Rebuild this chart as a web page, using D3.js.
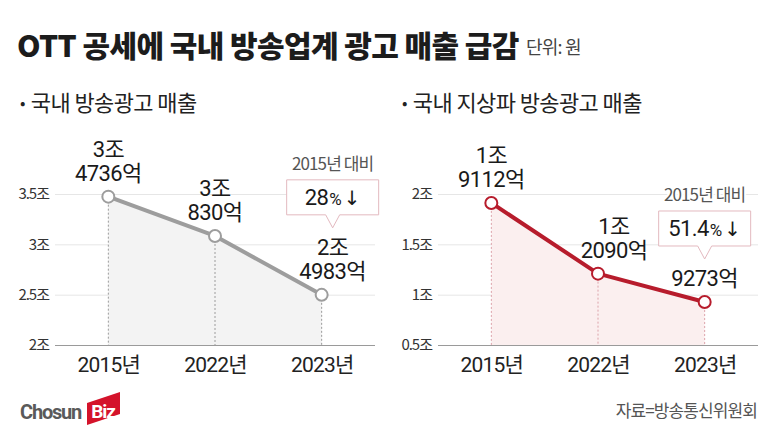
<!DOCTYPE html>
<html>
<head>
<meta charset="utf-8">
<script src="https://cdn.jsdelivr.net/npm/d3@7"></script>
<style>
  html, body { margin: 0; padding: 0; background: #fff; }
  svg { display: block; }
  text { font-family: Roboto, "Noto Sans CJK KR", sans-serif; }
  .kr { font-family: "Noto Sans CJK KR", sans-serif; }
</style>
</head>
<body>
<div id="chart"></div>
<script>
// chart values
var years = ["2015년", "2022년", "2023년"]
var totalSales = [3.4736, 3.0830, 2.4983]
var terrestrialSales = [1.9112, 1.2090, 0.9273]
var totalLabels = [["3조", "4736억"], ["3조", "830억"], ["2조", "4983억"]]
var terrestrialLabels = [["1조", "9112억"], ["1조", "2090억"], ["9273억"]]
var totalTicks = [2, 2.5, 3, 3.5]
var terrestrialTicks = [0.5, 1, 1.5, 2]
var changeLabels = ["28", "51.4"]
var subtitles = ["국내 방송광고 매출", "국내 지상파 방송광고 매출"]

var width = 780, height = 435

var svg = d3.select("#chart").append("svg")
  .attr("width", width)
  .attr("height", height)

// header
svg.append("text")
  .attr("class", "kr")
  .attr("x", 17)
  .attr("y", 57)
  .attr("font-size", 30)
  .attr("font-weight", 900)
  .attr("letter-spacing", -0.6)
  .attr("fill", "#1c1c1c")
  .text("OTT 공세에 국내 방송업계 광고 매출 급감")

svg.append("text")
  .attr("class", "kr")
  .attr("x", 526)
  .attr("y", 54)
  .attr("font-size", 18)
  .attr("letter-spacing", -0.8)
  .attr("fill", "#444")
  .text("단위: 원")

var panels = [
  { values: totalSales, labels: totalLabels, ticks: totalTicks, change: changeLabels[0], subtitle: subtitles[0],
    x0: 55, x1: 375, subX: 20, line: "#9d9d9d", area: "#f3f3f3", dash: "#9a9a9a", box: "#e3b9bf", lastDx: 11, midDx: 0 },
  { values: terrestrialSales, labels: terrestrialLabels, ticks: terrestrialTicks, change: changeLabels[1], subtitle: subtitles[1],
    x0: 438, x1: 758, subX: 402, line: "#b71c2c", area: "#fbefef", dash: "#dca3aa", box: "#e3b9bf", lastDx: 0, midDx: 16 }
]

var baseY = 345, topY = 194

panels.forEach(function(p) {

  var x = d3.scalePoint().domain(years).range([p.x0, p.x1]).padding(0.5)

  var y = d3.scaleLinear().domain(d3.extent(p.ticks)).range([baseY, topY])

  var g = svg.append("g")

  // subtitle
  var sub = g.append("text")
    .attr("class", "kr")
    .attr("x", p.subX)
    .attr("y", 111)
    .attr("font-size", 22)
    .attr("letter-spacing", -0.6)
    .attr("fill", "#222")
  sub.append("tspan").attr("font-size", 16).attr("dy", -2).text("•")
  sub.append("tspan").attr("dy", 2).attr("dx", 6).text(p.subtitle)

  // grid
  var yAxis = d3.axisLeft(y)
    .tickValues(p.ticks)
    .tickSize(-(p.x1 - p.x0))
    .tickPadding(6)
    .tickFormat(function(d) { return d + "조" })

  var ax = g.append("g")
    .attr("transform", "translate(" + p.x0 + ",0)")
    .call(yAxis)
  ax.select(".domain").remove()
  ax.selectAll(".tick line").attr("stroke", "#e6e6e6").attr("stroke-width", 1)
  ax.selectAll(".tick").filter(function(d) { return d === p.ticks[0] }).select("line").attr("stroke", "#9a9a9a")
  ax.selectAll(".tick text")
    .attr("class", "kr")
    .attr("font-size", 15)
    .attr("letter-spacing", -1)
    .attr("fill", "#333")

  // area
  var area = d3.area()
    .x(function(d, i) { return x(years[i]) })
    .y0(baseY)
    .y1(function(d) { return y(d) })

  g.append("path")
    .datum(p.values)
    .attr("d", area)
    .attr("fill", p.area)

  // drop lines
  g.selectAll(".drop")
    .data(p.values)
    .enter().append("line")
    .attr("x1", function(d, i) { return x(years[i]) })
    .attr("x2", function(d, i) { return x(years[i]) })
    .attr("y1", function(d) { return y(d) })
    .attr("y2", baseY)
    .attr("stroke", p.dash)
    .attr("stroke-width", 1)
    .attr("stroke-dasharray", "2,2")

  // x axis labels
  var xAxis = d3.axisBottom(x).tickSize(0).tickPadding(12)
  var xa = g.append("g")
    .attr("transform", "translate(0," + baseY + ")")
    .call(xAxis)
  xa.select(".domain").remove()
  xa.selectAll(".tick text")
    .attr("font-size", 21)
    .attr("letter-spacing", -0.8)
    .attr("fill", "#222")

  // line
  var line = d3.line()
    .x(function(d, i) { return x(years[i]) })
    .y(function(d) { return y(d) })

  g.append("path")
    .datum(p.values)
    .attr("d", line)
    .attr("fill", "none")
    .attr("stroke", p.line)
    .attr("stroke-width", 4)
    .attr("stroke-linejoin", "round")

  g.selectAll(".dot")
    .data(p.values)
    .enter().append("circle")
    .attr("cx", function(d, i) { return x(years[i]) })
    .attr("cy", function(d) { return y(d) })
    .attr("r", 6)
    .attr("fill", "#fff")
    .attr("stroke", p.line)
    .attr("stroke-width", 2)

  // value labels
  var offsets = [0, p.midDx, p.lastDx]
  p.values.forEach(function(v, i) {
    var lines = p.labels[i]
    var cx = x(years[i]) + offsets[i]
    lines.forEach(function(t, j) {
      var fromBottom = lines.length - 1 - j
      g.append("text")
        .attr("x", cx)
        .attr("y", y(v) - 16 - fromBottom * 24)
        .attr("text-anchor", "middle")
        .attr("font-size", 22)
        .attr("letter-spacing", -0.6)
        .attr("fill", "#1a1a1a")
        .text(t)
    })
  })

  // change callout above the last point
  var last = p.values.length - 1
  var nLines = p.labels[last].length
  var tipX = x(years[last]) + p.lastDx
  var tipY = y(p.values[last]) - 23 - (nLines - 1) * 24 - 20
  var bw = 92, bh = 35, nh = 13, nw = 7
  var bBottom = tipY - nh, bTop = bBottom - bh
  var bl = tipX - bw / 2, br = tipX + bw / 2

  var boxPath = d3.path()
  boxPath.moveTo(bl, bTop)
  boxPath.lineTo(br, bTop)
  boxPath.lineTo(br, bBottom)
  boxPath.lineTo(tipX + nw, bBottom)
  boxPath.lineTo(tipX, tipY)
  boxPath.lineTo(tipX - nw, bBottom)
  boxPath.lineTo(bl, bBottom)
  boxPath.closePath()

  g.append("path")
    .attr("d", boxPath.toString())
    .attr("fill", "#fff")
    .attr("stroke", p.box)
    .attr("stroke-width", 1)

  g.append("text")
    .attr("class", "kr")
    .attr("x", tipX)
    .attr("y", bTop - 10)
    .attr("text-anchor", "middle")
    .attr("font-size", 17)
    .attr("letter-spacing", -0.9)
    .attr("fill", "#555")
    .attr("stroke", "#fff")
    .attr("stroke-width", 4)
    .attr("paint-order", "stroke")
    .text(years[0] + " 대비")

  var ct = g.append("text")
    .attr("x", tipX)
    .attr("y", bTop + 25)
    .attr("text-anchor", "middle")
    .attr("fill", "#1a1a1a")
  ct.append("tspan").attr("font-size", 22).attr("letter-spacing", -0.6).text(p.change)
  ct.append("tspan").attr("font-size", 17).attr("dx", 1).text("%")
  ct.append("tspan").attr("font-size", 20).attr("dx", 2).attr("font-family", "DejaVu Sans").text("↓")
})

// footer
var logo = svg.append("g")
logo.append("text")
  .attr("x", 20)
  .attr("y", 419)
  .attr("font-family", "'Open Sans', sans-serif")
  .attr("font-size", 20)
  .attr("font-weight", 700)
  .attr("letter-spacing", -1.2)
  .attr("fill", "#5a5a5a")
  .text("Chosun")
logo.append("path")
  .attr("d", "M87,403 L120,392 L120,414 L87,425 Z")
  .attr("fill", "#d4132b")
logo.append("text")
  .attr("x", 103)
  .attr("y", 418)
  .attr("text-anchor", "middle")
  .attr("font-family", "'Open Sans', sans-serif")
  .attr("font-size", 19)
  .attr("font-weight", 700)
  .attr("letter-spacing", -1.1)
  .attr("fill", "#fff")
  .text("Biz")

svg.append("text")
  .attr("class", "kr")
  .attr("x", 757)
  .attr("y", 417)
  .attr("text-anchor", "end")
  .attr("font-size", 17)
  .attr("letter-spacing", -0.9)
  .attr("fill", "#555")
  .text("자료=방송통신위원회")
</script>
</body>
</html>
